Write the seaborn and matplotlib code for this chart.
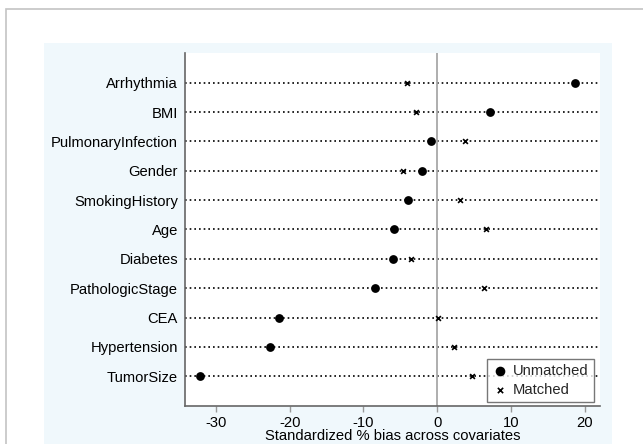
import matplotlib
matplotlib.use("Agg")
import numpy as np
import pandas as pd
import matplotlib.pyplot as plt
from matplotlib.patches import Rectangle
import seaborn as sns

# Data
covariates = ["Arrhythmia", "BMI", "PulmonaryInfection", "Gender", "SmokingHistory",
              "Age", "Diabetes", "PathologicStage", "CEA", "Hypertension", "TumorSize"]
unmatched = [18.7, 7.2, -0.8, -2.0, -4.0, -5.8, -6.0, -8.4, -21.4, -22.7, -32.2]
matched = [-4.1, -2.8, 3.8, -4.6, 3.1, 6.7, -3.6, 6.3, 0.1, 2.3, 4.8]
x_ticks = [-30, -20, -10, 0, 10, 20]

sns.set_theme(style="white")
plt.rcParams["font.family"] = ["Liberation Sans", "DejaVu Sans"]
fs = 10.6

pos = np.arange(len(covariates))
df_u = pd.DataFrame({"bias": unmatched, "pos": pos, "sample": "Unmatched"})
df_m = pd.DataFrame({"bias": matched, "pos": pos, "sample": "Matched"})

fig = plt.figure(figsize=(6.43, 4.44), dpi=100)
fig.patch.set_facecolor("white")

# outer frame and light blue panel (Stata graph region)
fig.patches.append(Rectangle((6 / 643, -0.1), 2, 1 - 9 / 444 + 0.1, transform=fig.transFigure,
                             facecolor="none", edgecolor="#c4c4c4", lw=1.2, zorder=-10))
fig.patches.append(Rectangle((44 / 643, -0.1), (612 - 44) / 643, 1 - 43 / 444 + 0.1,
                             transform=fig.transFigure, facecolor="#f0f8fc",
                             edgecolor="none", zorder=-10))

ax = fig.add_axes([185 / 643, 1 - 406 / 444, (600 - 185) / 643, (406 - 53) / 444])
ax.set_zorder(5)
ax.set_facecolor("white")

xmin, xmax = -34.2, 22.1
ax.hlines(pos, xmin, xmax, colors="black", linestyles=(0, (1, 1.8)), lw=1.2, zorder=1)
ax.axvline(0, color="#a8a8a8", lw=1.3, zorder=1)

sns.scatterplot(data=df_u, x="bias", y="pos", marker="o", color="black", s=40,
                edgecolor="black", linewidth=0, label="Unmatched", ax=ax, zorder=3)
sns.scatterplot(data=df_m, x="bias", y="pos", marker="x", color="black", s=12,
                linewidth=1.2, label="Matched", ax=ax, zorder=3)

ax.set_xlim(xmin, xmax)
ax.set_ylim(len(covariates) - 1 + 1.01, -1.01)
ax.set_yticks(pos)
ax.set_yticklabels(covariates)
ax.set_xticks(x_ticks)
ax.set_xticklabels([str(t) for t in x_ticks])
ax.tick_params(axis="y", length=0, pad=5, labelsize=fs, labelcolor="black")
ax.tick_params(axis="x", length=4.3, width=1, color="#999999", pad=3.2,
               labelsize=fs, labelcolor="black", bottom=True)

ax.set_xlabel("Standardized % bias across covariates", fontsize=fs, labelpad=-1, color="black")
ax.set_ylabel("")

for side in ["top", "right"]:
    ax.spines[side].set_visible(False)
ax.spines["left"].set_color("#666666")
ax.spines["bottom"].set_color("#666666")
ax.spines["left"].set_linewidth(1.2)
ax.spines["bottom"].set_linewidth(1.2)

leg = ax.legend(loc="lower right", bbox_to_anchor=((594 - 185) / 415, (406 - 402) / 353),
                borderaxespad=0, fontsize=fs, frameon=True, fancybox=False,
                handletextpad=0.4, handlelength=1.0, borderpad=0.35, labelspacing=0.35,
                markerscale=1.1)
leg.get_frame().set_edgecolor("#555555")
leg.get_frame().set_linewidth(1.0)

fig.savefig("out.png", dpi=100)
